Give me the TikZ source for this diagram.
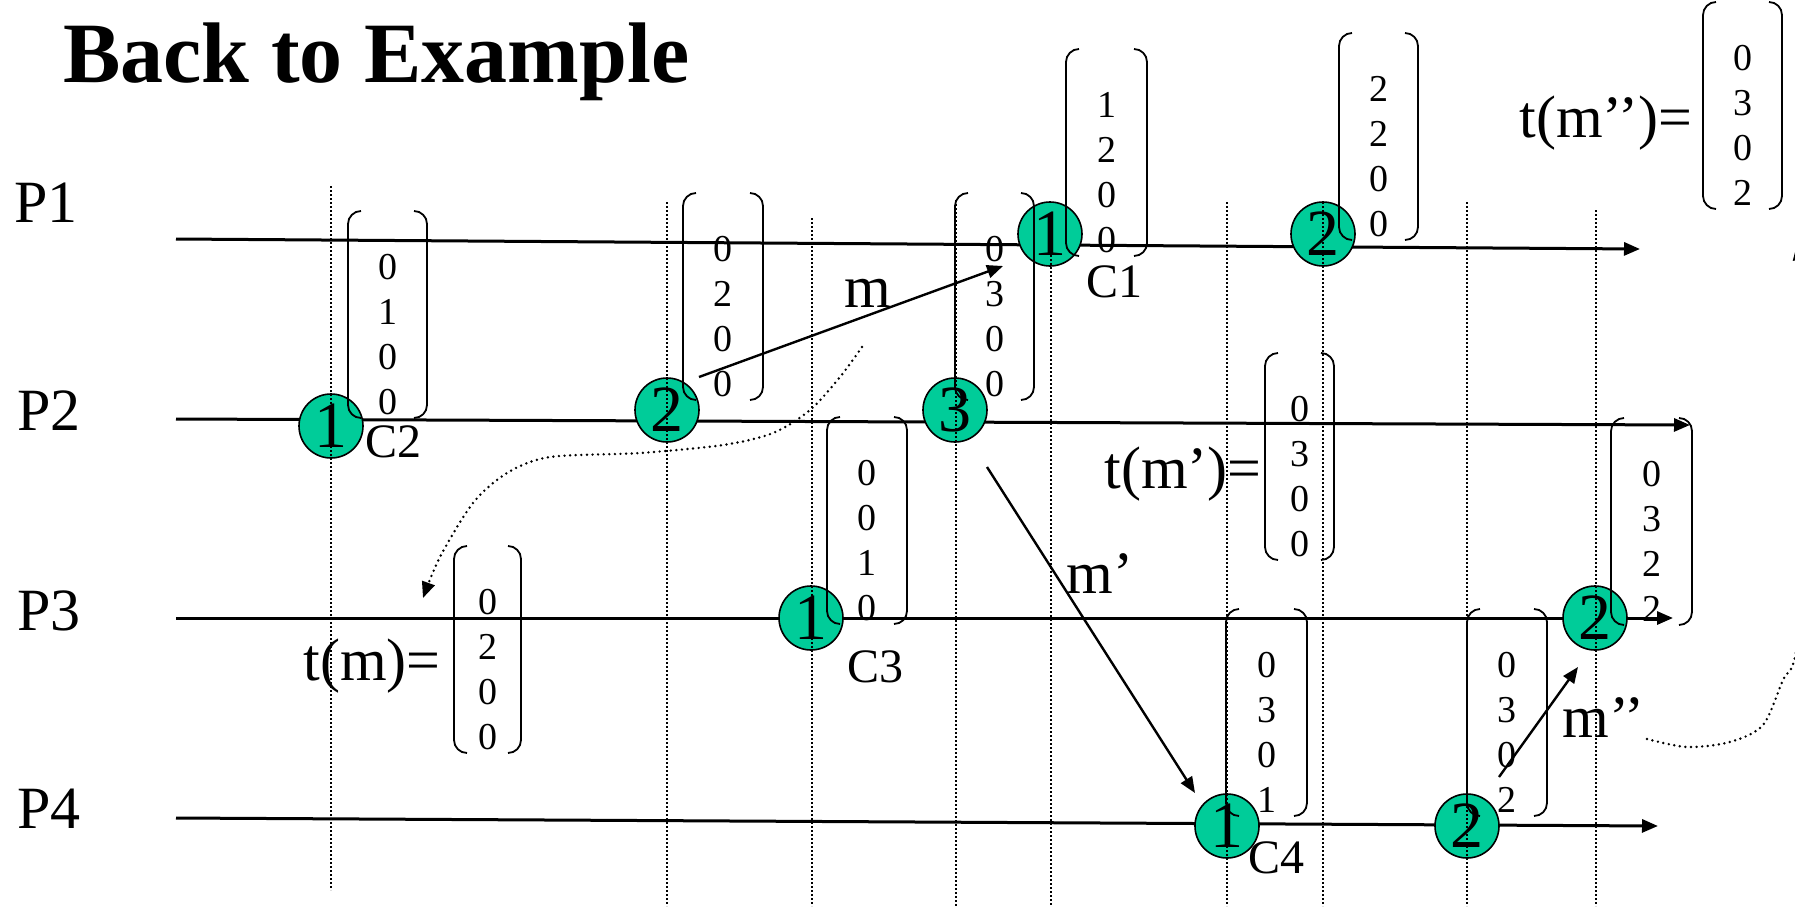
\documentclass[tikz,border=0pt]{standalone}
\usepackage{fontspec}
\setmainfont{Liberation Serif}
\usetikzlibrary{arrows.meta}
\definecolor{evgreen}{RGB}{0,204,153}

% a vector timestamp: name, left, top, width, entries
\newcommand{\clockvec}[5]{%
  \draw[bracket] (#2+13,#3) -- (#2,#3) -- (#2,#3+207) -- (#2+13,#3+207);
  \draw[bracket] (#2+#4-13,#3) -- (#2+#4,#3) -- (#2+#4,#3+207) -- (#2+#4-13,#3+207);
  \foreach \d [count=\i] in {#5}
    \node[vdigit] (#1-\i) at (#2+#4/2,#3+11+45*\i) {\d};
}

\begin{document}
\begin{tikzpicture}[x=0.5pt,y=-0.5pt,>={Triangle[length=8pt,width=6.5pt]},
  headline/.style={font=\bfseries\fontsize{43}{50}\selectfont,anchor=base west,inner sep=0pt},
  lbl/.style={font=\fontsize{30}{36}\selectfont,anchor=base west,inner sep=0pt},
  clbl/.style={font=\fontsize{24}{28}\selectfont,anchor=base west,inner sep=0pt},
  vdigit/.style={font=\fontsize{19}{22}\selectfont,inner sep=0pt},
  event/.style={circle,draw,line width=0.8pt,fill=evgreen,minimum size=32pt,inner sep=0pt,font=\fontsize{33}{36}\selectfont},
  cutline/.style={line width=0.75pt,dash pattern=on 0.9pt off 1.1pt},
  bracket/.style={line width=0.9pt,rounded corners=6.5pt},
  proc/.style={line width=1.5pt,->},
  msg/.style={line width=1.2pt,->},
  hint/.style={line width=1.35pt,dash pattern=on 0pt off 2.8pt,line cap=round,->}]
  \useasboundingbox (0,0) rectangle (1795,906);
  \node[headline] (title) at (63,82) {Back to Example};
  % process lines
  \foreach \n/\xl/\yl/\ys/\xe/\ye in {1/14/222/239/1640/249,2/17/430/419/1690/425,
                                      3/17/630/618/1673/618,4/17/828/818/1658/826} {
    \node[lbl] (P\n) at (\xl,\yl) {P\n};
    \coordinate (s\n) at (176,\ys);
    \coordinate (e\n) at (\xe,\ye);
    \draw[proc] (s\n) -- (e\n);
  }
  % events
  \foreach \n/\x/\y/\d in {e11/1050/234/1,e12/1323/234/2,e21/331/426/1,e22/667/410/2,e23/955/410/3,
                           e31/811/618/1,e32/1595/618/2,e41/1227/826/1,e42/1467/826/2}
    \node[event] (\n) at (\x,\y) {\d};
  % cut lines
  \foreach \x/\t/\b in {331/186/890,667/202/906,812/218/906,956/200/906,1051/215/906,
                        1227/202/906,1323/202/906,1467/202/906,1596/210/906}
    \draw[cutline] (\x,\t) -- (\x,\b);
  % timestamps
  \clockvec{v21}{348}{211}{79}{0,1,0,0}
  \clockvec{v22}{683}{193}{80}{0,2,0,0}
  \clockvec{v23}{955}{193}{79}{0,3,0,0}
  \clockvec{v11}{1066}{49}{81}{1,2,0,0}
  \clockvec{v12}{1339}{33}{79}{2,2,0,0}
  \clockvec{tmpp}{1703}{2}{79}{0,3,0,2}
  \clockvec{tmp}{1265}{353}{69}{0,3,0,0}
  \clockvec{v31}{827}{417}{80}{0,0,1,0}
  \clockvec{tm}{454}{546}{67}{0,2,0,0}
  \clockvec{v32}{1611}{418}{81}{0,3,2,2}
  \clockvec{v41}{1226}{609}{81}{0,3,0,1}
  \clockvec{v42}{1467}{609}{80}{0,3,0,2}
  % checkpoint names
  \foreach \n/\x/\y in {1/1086/297,2/365/457,3/847/682,4/1248/873}
    \node[clbl] (C\n) at (\x,\y) {C\n};
  % messages
  \coordinate (ms) at (699,377);   \coordinate (me) at (1003,266);
  \coordinate (mps) at (987,467);  \coordinate (mpe) at (1195,793);
  \coordinate (mpps) at (1499,777); \coordinate (mppe) at (1578,667);
  \draw[msg] (ms) -- (me);
  \draw[msg] (mps) -- (mpe);
  \draw[msg] (mpps) -- (mppe);
  \node[lbl] (m) at (844,307) {m};
  \node[lbl] (mp) at (1066,593) {m’};
  \node[lbl] (mpp) at (1562,737) {m’’};
  \node[lbl] (tmlbl) at (303,680) {t(m)=};
  \node[lbl] (tmplbl) at (1104,488) {t(m’)=};
  \node[lbl] (tmpplbl) at (1519,137) {t(m’’)=};
  % pointers to the timestamps
  \coordinate (h1s) at (862,347); \coordinate (h1e) at (423,598);
  \coordinate (h2s) at (1647,739); \coordinate (h2e) at (1797,244);
  \draw[hint] plot[smooth] coordinates {(h1s) (840,377) (810,410) (773,433) (723,445) (640,453)
    (550,457) (507,473) (473,503) (440,557) (h1e)};
  \draw[hint] plot[smooth] coordinates {(h2s) (1687,747) (1730,742) (1763,725) (1783,680)
    (1795,657) (1808,560) (1812,400) (1803,290) (h2e)};
\end{tikzpicture}
\end{document}
